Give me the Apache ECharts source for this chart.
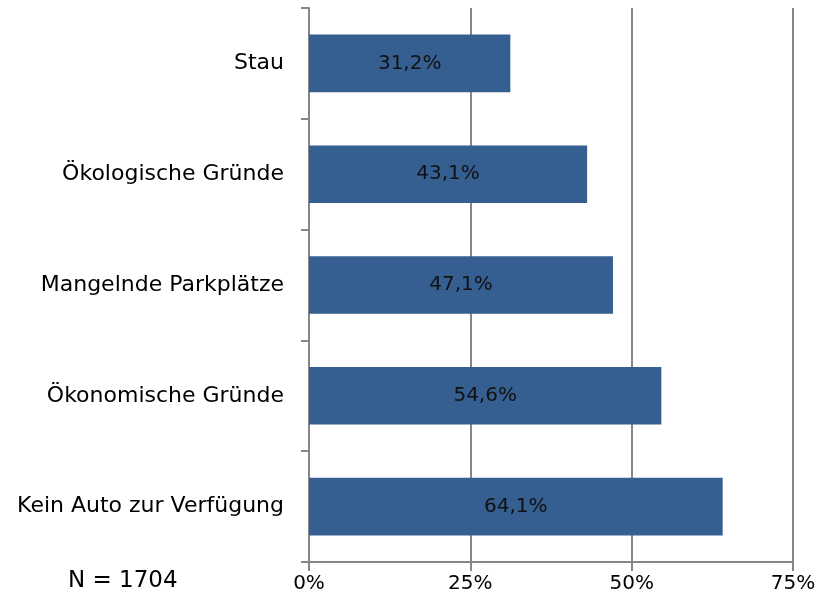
<!DOCTYPE html>
<html>
<head>
<meta charset="utf-8">
<script src="https://cdn.jsdelivr.net/npm/echarts@6/dist/echarts.min.js"></script>
<style>
  html, body { margin: 0; padding: 0; background: #fff; }
  #chart { width: 828px; height: 607px; }
</style>
</head>
<body>
<div id="chart"></div>
<script>
// categories, top to bottom as in the picture
const categories = ['Stau', 'Ökologische Gründe', 'Mangelnde Parkplätze', 'Ökonomische Gründe', 'Kein Auto zur Verfügung']
const shares = [31.2, 43.1, 47.1, 54.6, 64.1]
const sampleNote = 'N = 1704'

const fontName = 'DejaVu Sans'
const chart = echarts.init(document.getElementById('chart'))

const option = {
  animation: false,
  textStyle: { fontFamily: fontName },
  grid: { left: 309, right: 35, top: 8, bottom: 45 },
  graphic: [
    {
      type: 'text',
      left: 68,
      top: 570,
      style: { text: sampleNote, fontSize: 23, fill: '#000', fontFamily: fontName },
    },
  ],
  xAxis: {
    type: 'value',
    min: 0,
    max: 75,
    interval: 25,
    axisLine: { show: true, lineStyle: { color: '#868686', width: 2 } },
    axisTick: { show: true, length: 9, lineStyle: { color: '#868686', width: 2 } },
    axisLabel: { formatter: '{value}%', fontSize: 20, color: '#000', margin: 12 },
    splitLine: { show: true, lineStyle: { color: '#868686', width: 2 } },
  },
  yAxis: {
    type: 'category',
    data: categories,
    inverse: true,
    axisLine: { show: true, lineStyle: { color: '#868686', width: 2 } },
    axisTick: { show: true, length: 8, lineStyle: { color: '#868686', width: 2 } },
    axisLabel: { fontSize: 22, color: '#000', margin: 25 },
  },
  series: [
    {
      type: 'bar',
      data: shares,
      barWidth: '52%',
      itemStyle: { color: '#355F91' },
      label: {
        show: true,
        position: 'inside',
        formatter: (p) => String(p.value.toFixed(1)).replace('.', ',') + '%',
        fontSize: 20,
        color: '#111',
      },
    },
  ],
}

chart.setOption(option)
</script>
</body>
</html>
